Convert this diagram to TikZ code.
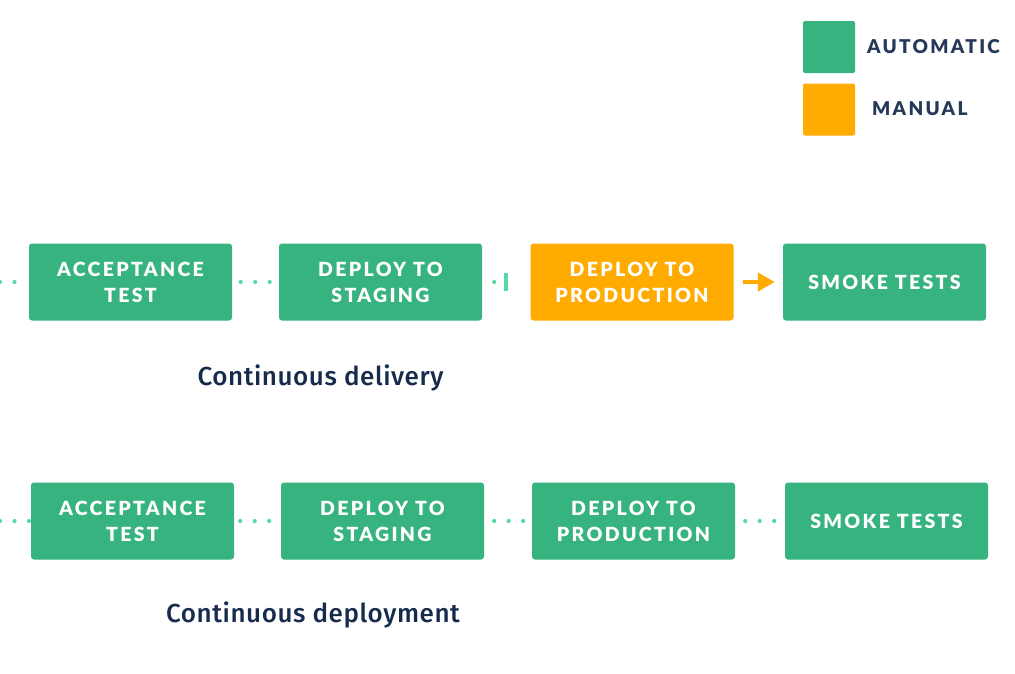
\documentclass[tikz,border=0pt]{standalone}
\usepackage{fontspec}
\usetikzlibrary{arrows.meta}
\newfontfamily\capsfont{Lato Black}[LetterSpace=12]
\newfontfamily\labfont{Fira Sans Medium}[LetterSpace=2.2]
\definecolor{autogreen}{HTML}{36B37E}
\definecolor{manorange}{HTML}{FFAB00}
\definecolor{dotgreen}{HTML}{57D9A3}
\definecolor{legendtext}{HTML}{253858}
\definecolor{labeltext}{HTML}{172B4D}
\begin{document}
\begin{tikzpicture}[x=1pt,y=-1pt,
  stage/.style={rectangle, rounded corners=3pt, minimum width=203pt, minimum height=77pt,
    inner sep=0pt, text=white, align=center,
    font=\capsfont\fontsize{19.5}{26}\selectfont},
  autostage/.style={stage, fill=autogreen},
  manstage/.style={stage, fill=manorange},
  swatch/.style={rectangle, rounded corners=2pt, minimum size=52pt, inner sep=0pt},
  legendlabel/.style={anchor=base west, inner sep=0pt, text=legendtext,
    font=\capsfont\fontsize{19}{22}\selectfont},
  caption/.style={anchor=base, inner sep=0pt, text=labeltext,
    font=\labfont\fontsize{26}{30}\selectfont},
  dots/.style={draw=dotgreen, line width=4.2pt, line cap=round, dash pattern=on 0pt off 14.5pt},
  bar/.style={draw=dotgreen, line width=3.5pt},
  manarrow/.style={draw=manorange, line width=4.5pt, -{Triangle[length=17pt,width=18pt]}},
]
\useasboundingbox (0,0) rectangle (1015,673);

% ---------- legend ----------
\node[swatch, fill=autogreen] (legA) at (829,47) {};
\node[swatch, fill=manorange] (legM) at (829,109.5) {};
\node[legendlabel] (legAt) at (867,53.5) {AUTOMATIC};
\node[legendlabel] (legMt) at (872,115.5) {MANUAL};

% ---------- row 1: continuous delivery ----------
\coordinate (r1start) at (0,282);
\coordinate (r1bar) at (506,282);
\path (130.5,282) node[autostage] (a1) {ACCEPTANCE\\TEST};
\path (380.5,282) node[autostage] (b1) {DEPLOY TO\\STAGING};
\path (632,282) node[manstage] (c1) {DEPLOY TO\\PRODUCTION};
\path (884.5,282) node[autostage] (d1) {SMOKE TESTS};

% ---------- row 2: continuous deployment ----------
\coordinate (r2start) at (0,521);
\path (132.5,521) node[autostage] (a2) {ACCEPTANCE\\TEST};
\path (382.5,521) node[autostage] (b2) {DEPLOY TO\\STAGING};
\path (633.5,521) node[autostage] (c2) {DEPLOY TO\\PRODUCTION};
\path (886.5,521) node[autostage] (d2) {SMOKE TESTS};

% ---------- connectors ----------
\draw[dots] (r1start) -- (a1.west);
\draw[dots, dash phase=6pt] (a1.east) -- (b1.west);
\draw[dots, dash phase=2.5pt] (b1.east) -- (r1bar);
\draw[bar] ([yshift=-9pt]r1bar) -- ([yshift=9pt]r1bar);
\draw[manarrow, shorten <=9pt, shorten >=8pt] (c1.east) -- (d1.west);

\draw[dots] (r2start) -- (a2.west);
\draw[dots, dash phase=8.5pt] (a2.east) -- (b2.west);
\draw[dots, dash phase=4.5pt] (b2.east) -- (c2.west);
\draw[dots, dash phase=4.5pt] (c2.east) -- (d2.west);

% ---------- captions ----------
\node[caption] (cap1) at (320.5,385) {Continuous delivery};
\node[caption] (cap2) at (313,622) {Continuous deployment};
\end{tikzpicture}
\end{document}
